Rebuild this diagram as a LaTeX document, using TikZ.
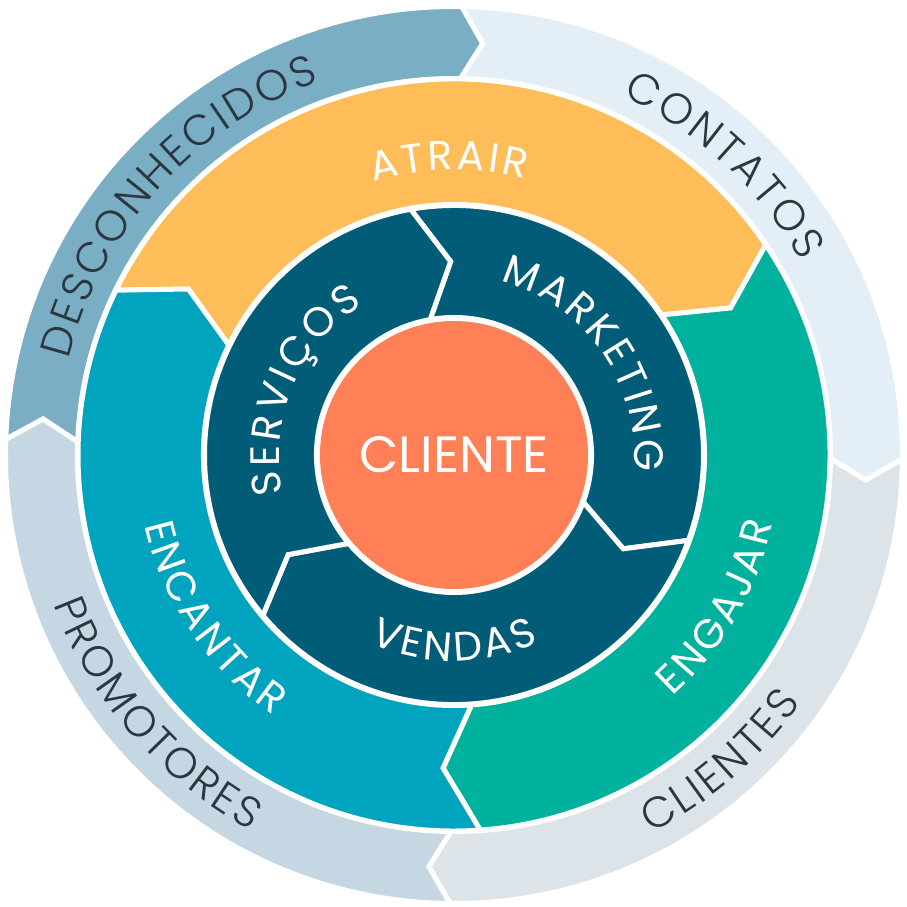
\documentclass[tikz,border=0pt]{standalone}
\usepackage{fontspec}
\setmainfont{Poppins}
\newfontfamily\ringfont{Poppins}
\newfontfamily\thinfont{Poppins Light}
\usetikzlibrary{decorations.text}

\definecolor{desconhecidos}{HTML}{79AEC4}
\definecolor{contatos}{HTML}{E4EEF6}
\definecolor{clientes}{HTML}{DDE4E9}
\definecolor{promotores}{HTML}{C4D7E2}
\definecolor{atrair}{HTML}{FEBD59}
\definecolor{engajar}{HTML}{00B19E}
\definecolor{encantar}{HTML}{00A4BE}
\definecolor{equipe}{HTML}{015C78}
\definecolor{cliente}{HTML}{FF7F56}
\definecolor{outertext}{HTML}{2B3640}

% spaced capitals: the space between letters is kept small
\newcommand{\outerfmt}{\thinfont\fontsize{43}{46}\selectfont\fontdimen2\font=2.8pt}
\newcommand{\ringfmt}{\ringfont\fontsize{41}{44}\selectfont\fontdimen2\font=3.2pt}

% color, start angle, end angle, inner r, outer r, tip
\newcommand{\flyseg}[6]{%
  \path[fill=#1,draw=white,line width=5pt,line join=miter]
    (#2:#5) arc[start angle=#2,end angle=#3,radius=#5]
    -- ({#3-#6}:{(#4+#5)/2}) -- (#3:#4)
    arc[start angle=#3,end angle=#2,radius=#4]
    -- ({#2-#6}:{(#4+#5)/2}) -- cycle;}

% format, color, radius, start angle, end angle, text
\newcommand{\arctext}[6]{%
  \path[decorate,decoration={text along path,text align=center,
      text color=#2,text={|#1|#6}}]
    (#4:#3) arc[start angle=#4,end angle=#5,radius=#3];}

\begin{document}
\begin{tikzpicture}[x=1pt,y=1pt]
\useasboundingbox (-454,-452) rectangle (453,455);

% outer ring
\flyseg{desconhecidos}{178}{89}{376.5}{448.5}{3}
\flyseg{contatos}{89}{-0.5}{376.5}{448.5}{3}
\flyseg{clientes}{-0.5}{-90.5}{376.5}{448.5}{3}
\flyseg{promotores}{269.5}{178}{376.5}{448.5}{3}

% middle ring
\flyseg{atrair}{154}{34}{250.5}{376}{6}
\flyseg{engajar}{34}{-86}{250.5}{376}{6}
\flyseg{encantar}{274}{154}{250.5}{376}{6}

% inner ring
\foreach \a in {100,-20,220}{
  \flyseg{equipe}{\a}{\a-120}{137.5}{249.5}{9}
}

\node[circle,fill=cliente,minimum size=268pt,inner sep=0pt,text=white,
  font=\fontsize{51}{54}\selectfont] (cliente) at (0,0) {CLIENTE};

% labels
\arctext{\outerfmt}{outertext}{397}{198}{78}{D E S C O N H E C I D O S}
\arctext{\outerfmt}{outertext}{397}{97}{-3}{C O N T A T O S}
\arctext{\outerfmt}{outertext}{427}{-99}{1}{C L I E N T E S}
\arctext{\outerfmt}{outertext}{427}{171}{271}{P R O M O T O R E S}

\arctext{\ringfmt}{white}{285}{141}{41}{A T R A I R}
\arctext{\ringfmt}{white}{326}{-80}{20}{E N G A J A R}
\arctext{\ringfmt}{white}{317}{164}{264}{E N C A N T A R}

\arctext{\ringfmt}{white}{175}{217}{97}{S E R V I Ç O S}
\arctext{\ringfmt}{white}{180}{95}{-25}{M A R K E T I N G}
\arctext{\ringfmt}{white}{206}{-150}{-30}{V E N D A S}
\end{tikzpicture}
\end{document}
